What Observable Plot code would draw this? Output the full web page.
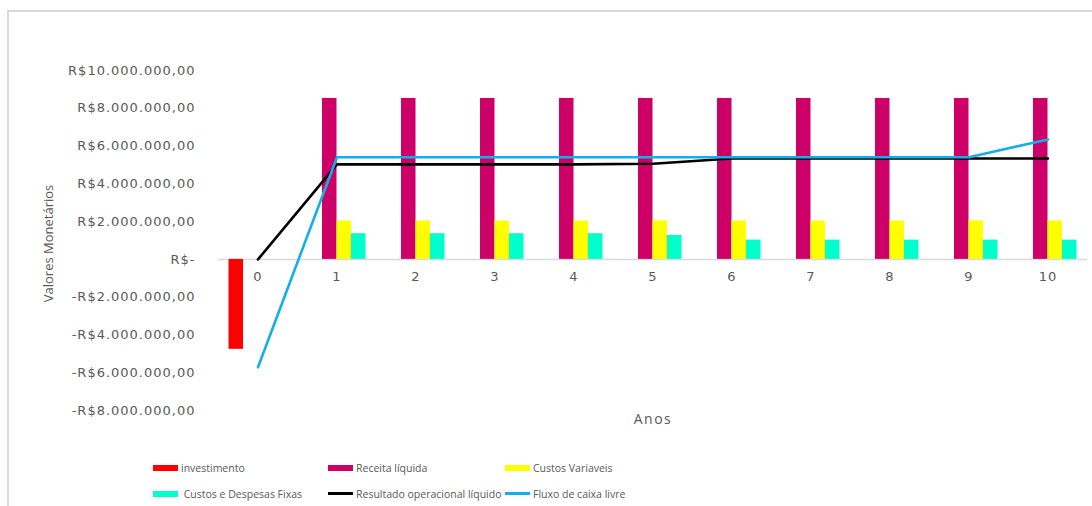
<!DOCTYPE html>
<html><head><meta charset="utf-8">
<script src="https://cdn.jsdelivr.net/npm/d3@7"></script>
<script src="https://cdn.jsdelivr.net/npm/@observablehq/plot@0.6"></script>
<style>
html,body{margin:0;padding:0;background:#fff;width:1092px;height:506px;overflow:hidden;}
#frame{position:absolute;left:7px;top:10px;right:0;bottom:0;border-top:2px solid #d9d9d9;border-left:2px solid #d9d9d9;}
#chart{position:absolute;left:0;top:0;}
#chart svg g[aria-label="y-axis tick label"] text, #chart svg .xlab text{letter-spacing:1px;}
#chart svg .anos text{letter-spacing:1.5px;}
.lg{position:absolute;display:flex;align-items:center;height:16px;font-family:"Open Sans",sans-serif;font-size:10.5px;color:#595959;white-space:pre;}
.sw{display:inline-block;width:25px;height:6px;margin-right:3px;}
.ln{display:inline-block;width:25px;height:2.5px;margin-right:3px;}
</style></head><body>
<div id="frame"></div>
<div id="chart"></div>
<div id="legend"></div>
<script>
// ---- data ----
const years = [0, 1, 2, 3, 4, 5, 6, 7, 8, 9, 10];
const investimento   = [-4760000, null, null, null, null, null, null, null, null, null, null];
const receitaLiquida = [null, 8520000, 8520000, 8520000, 8520000, 8520000, 8520000, 8520000, 8520000, 8520000, 8520000];
const custosVariaveis = [null, 2030000, 2030000, 2030000, 2030000, 2040000, 2030000, 2030000, 2030000, 2040000, 2030000];
const custosFixos    = [null, 1360000, 1360000, 1360000, 1360000, 1270000, 1020000, 1020000, 1020000, 1020000, 1020000];
const resultadoOperacional = [0, 5030000, 5030000, 5030000, 5030000, 5060000, 5340000, 5340000, 5340000, 5340000, 5340000];
const fluxoCaixaLivre = [-5710000, 5410000, 5410000, 5410000, 5410000, 5410000, 5410000, 5410000, 5410000, 5410000, 6350000];
const yTicks = [-8000000, -6000000, -4000000, -2000000, 0, 2000000, 4000000, 6000000, 8000000, 10000000];
const barNames = ["investimento", "Receita líquida", "Custos Variaveis", " Custos e Despesas Fixas"];
const lineNames = ["Resultado operacional líquido", "Fluxo de caixa livre"];

// ---- styles ----
const barColors = ["#ff0000", "#cc0066", "#ffff00", "#00ffcc"];
const lineColors = ["#000000", "#14aee8"];

const barValues = [investimento, receitaLiquida, custosVariaveis, custosFixos];
const lineValues = [resultadoOperacional, fluxoCaixaLivre];

const bars = barNames.flatMap((name, i) =>
  years.map((y, j) => ({year: y, value: barValues[i][j], series: name, slot: i}))
).filter(d => d.value != null);
const lines = lineNames.map((name, i) => years.map((y, j) => ({year: y, value: lineValues[i][j], series: name})));

const w = 0.1835; // bar width in year units
const loc = d3.formatLocale({decimal: ",", thousands: ".", grouping: [3], currency: ["R$", ""]});
const f2 = loc.format(",.2f");
const tickFmt = d => d === 0 ? "R$-" : (d < 0 ? "-" : "") + "R$" + f2(Math.abs(d));

const chart = Plot.plot({
  width: 1092, height: 440,
  marginLeft: 218, marginRight: 5, marginTop: 70, marginBottom: 30,
  x: {domain: [-0.5, 10.5], axis: null},
  y: {domain: [-8000000, 10000000], axis: null},
  style: {fontFamily: "DejaVu Sans", fontSize: "13px", color: "#595959", background: "transparent"},
  marks: [
    Plot.axisY(yTicks, {tickSize: 0, tickPadding: 23, tickFormat: tickFmt, label: null, fill: "#595959", fontSize: 13}),
    Plot.ruleY([0], {stroke: "#d9d9d9", strokeWidth: 1.5}),
    Plot.rect(bars, {
      x1: d => d.year + (d.slot - 2) * w,
      x2: d => d.year + (d.slot - 1) * w,
      y1: () => 0, y2: "value",
      fill: d => barColors[d.slot]
    }),
    Plot.line(lines[0], {x: "year", y: "value", stroke: lineColors[0], strokeWidth: 2.6}),
    Plot.line(lines[1], {x: "year", y: "value", stroke: lineColors[1], strokeWidth: 2.6}),
    Plot.text(years, {x: d => d, y: () => 0, dy: 17, text: d => String(d), fill: "#595959", fontSize: 13, className: "xlab"}),
    Plot.text(["Valores Monetários"], {frameAnchor: "left", dx: -170, dy: 3, rotate: -90, textAnchor: "middle", fill: "#595959", fontFamily: "Open Sans", fontSize: 13}),
    Plot.text(["Anos"], {frameAnchor: "bottom", dy: 13, fill: "#595959", fontFamily: "Open Sans", fontSize: 14, className: "anos"})
  ]
});
document.getElementById("chart").appendChild(chart);

// ---- legend ----
const legend = document.getElementById("legend");
const items = [
  ...barNames.map((n, i) => ({name: n, color: barColors[i], kind: "sw"})),
  ...lineNames.map((n, i) => ({name: n, color: lineColors[i], kind: "ln"}))
];
const colX = [153, 328, 505];
const rowY = [459.5, 485.5];
items.forEach((it, k) => {
  const el = document.createElement("div");
  el.className = "lg";
  el.style.left = colX[k % 3] + "px";
  el.style.top = rowY[Math.floor(k / 3)] + "px";
  const s = document.createElement("span");
  s.className = it.kind;
  s.style.background = it.color;
  el.appendChild(s);
  el.appendChild(document.createTextNode(it.name));
  legend.appendChild(el);
});
</script>
</body></html>
